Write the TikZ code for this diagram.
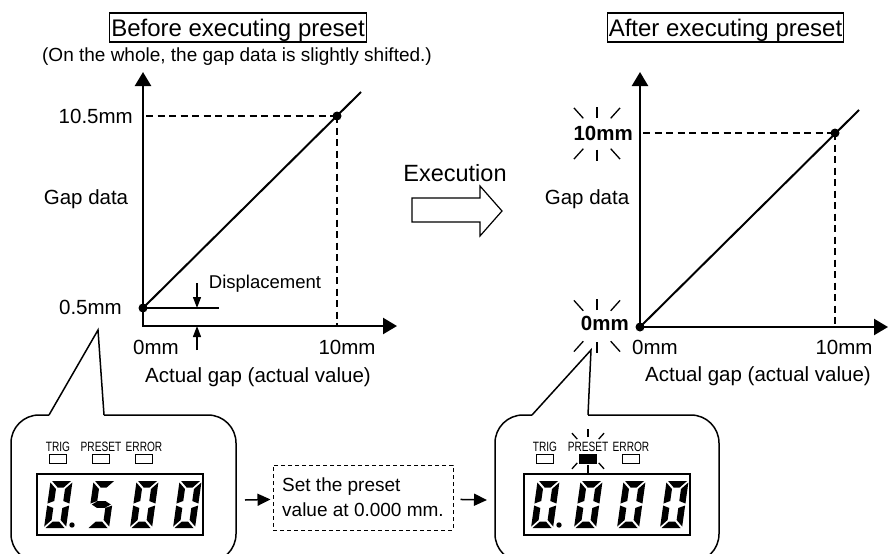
\documentclass[tikz,border=0pt]{standalone}
\usepackage{fontspec}
\setmainfont{Liberation Sans}
\usepackage{graphicx}
\usetikzlibrary{arrows.meta}

% short rays round a lit value
\newcommand{\blink}[5]{%
  \begin{scope}[shift={#1}]
    \foreach \a in {90,270}\draw[ray](\a:#2)--(\a:#3);
    \foreach \a in {48,132,228,312}\draw[ray](\a:#4)--(\a:#5);
  \end{scope}}

\begin{document}
\begin{tikzpicture}[x=1pt,y=-1pt,
heading/.style={draw,line width=1.2pt,inner xsep=1.5pt,inner ysep=2pt,text height=21pt,text depth=4pt,font=\fontsize{24}{28}\selectfont},
lbl/.style={inner sep=0pt,font=\fontsize{20.5}{24}\selectfont},
ax/.style={line width=2.4pt,{Triangle[length=14pt,width=16pt]}-{Triangle[length=14pt,width=16pt]}},
guide/.style={line width=1.5pt,dash pattern=on 7pt off 4.5pt},
trend/.style={line width=2pt},
nudge/.style={line width=1.3pt,-{Triangle[length=11pt,width=8pt]}},
knot/.style={circle,fill,inner sep=0pt,minimum size=9pt},
ray/.style={line width=1.3pt},
bubble/.style={line width=1.5pt,rounded corners=28pt},
lcd/.style={draw,line width=1.1pt,inner sep=0pt,minimum width=166pt,minimum height=61pt},
lamp/.style={draw,line width=.9pt,inner sep=0pt,minimum width=17pt,minimum height=9pt},
lamptag/.style={inner sep=0pt,font=\fontsize{13.5}{14}\selectfont},
flow/.style={line width=1.5pt,-{Triangle[length=13pt,width=12pt]}},
setbox/.style={draw,line width=1pt,dash pattern=on 4pt off 3pt,align=left,inner xsep=9pt,minimum width=180pt,minimum height=65pt,font=\fontsize{19}{25}\selectfont},
zero/.pic={\fill[xslant=.14]
 (1.5,-47)--(20.5,-47)--(14,-40.5)--(8,-40.5)--cycle
 (22,-45.5)--(22,-24.5)--(15.5,-27)--(15.5,-39)--cycle
 (22,-22.5)--(22,-1.5)--(15.5,-8)--(15.5,-20)--cycle
 (1.5,0)--(20.5,0)--(14,-6.5)--(8,-6.5)--cycle
 (0,-1.5)--(0,-22.5)--(6.5,-20)--(6.5,-8)--cycle
 (0,-45.5)--(0,-24.5)--(6.5,-27)--(6.5,-39)--cycle;},
five/.pic={\fill[xslant=.14]
 (1.5,-47)--(20.5,-47)--(14,-40.5)--(8,-40.5)--cycle
 (0,-45.5)--(0,-24.5)--(6.5,-27)--(6.5,-39)--cycle
 (1.5,-23.5)--(7,-26.8)--(15,-26.8)--(20.5,-23.5)--(15,-20.2)--(7,-20.2)--cycle
 (22,-22.5)--(22,-1.5)--(15.5,-8)--(15.5,-20)--cycle
 (1.5,0)--(20.5,0)--(14,-6.5)--(8,-6.5)--cycle;}]
\useasboundingbox(0,0)rectangle(889,554);

% before
\node[heading](before)at(238,27.5){Before executing preset};
\node[lbl,font=\fontsize{19}{22}\selectfont](note)at(237,57){(On the whole, the gap data is slightly shifted.)};
\coordinate(o1)at(143,326);\coordinate(y1)at(143,72);\coordinate(x1)at(397,326);
\draw[ax](y1)--(o1)--(x1);
\coordinate(q1)at(143,308);\coordinate(e1)at(361,92);\coordinate(a1)at(146,116);\coordinate(h1)at(219,308);
\draw[trend](q1)--(e1);
\draw[trend](q1)--(h1);
\node[knot](p1)at(337,116){};
\node[knot](s1)at(q1){};
\draw[guide](a1)--(p1.center);
\draw[guide](p1.center)--(p1|-o1);
\coordinate(d1)at(197,283);\coordinate(d2)at(197,308);\coordinate(d3)at(197,350);\coordinate(d4)at(197,326);
\draw[nudge](d1)--(d2);
\draw[nudge](d3)--(d4);
\node[lbl,anchor=east](hi1)at(133,116){10.5mm};
\node[lbl](gd1)at(86,199){Gap data};
\node[lbl,anchor=east](lo1)at(122,307){0.5mm};
\node[lbl,font=\fontsize{18.5}{22}\selectfont](disp)at(265,284){Displacement};
\node[lbl](z1)at(156,347){0mm};
\node[lbl](t1)at(347,347){10mm};
\node[lbl](ag1)at(258,377){Actual gap (actual value)};

% execution
\node[lbl,font=\fontsize{23.5}{28}\selectfont](exec)at(455,173){Execution};
\draw[line width=1.2pt](412,198)--(480,198)--(480,186)--(502,211)--(480,236)--(480,222)--(412,222)--cycle;

% after
\node[heading](after)at(725.5,27.5){After executing preset};
\coordinate(o2)at(640,327);\coordinate(y2)at(640,72);\coordinate(x2)at(888,327);
\draw[ax](y2)--(o2)--(x2);
\coordinate(e2)at(859,110);\coordinate(a2)at(643,133);
\draw[trend](o2)--(e2);
\node[knot](p2)at(835,133){};
\node[knot](s2)at(o2){};
\draw[guide](a2)--(p2.center);
\draw[guide](p2.center)--(p2|-o2);
\node[lbl,anchor=east,font=\bfseries\fontsize{20.5}{24}\selectfont](hi2)at(633,133){10mm};
\blink{(597,133.5)}{16}{27}{20.5}{34.5}
\node[lbl](gd2)at(587,199){Gap data};
\node[lbl,anchor=east,font=\bfseries\fontsize{20.5}{24}\selectfont](lo2)at(629,323){0mm};
\blink{(597,326)}{16}{27}{20.5}{34.5}
\node[lbl](z2)at(655,347){0mm};
\node[lbl](t2)at(844,347){10mm};
\node[lbl](ag2)at(758,376){Actual gap (actual value)};

% left panel
\draw[line width=1.5pt](49,415)--(98,330)--(104,415);
\draw[bubble](104,415)--(236,415)--(236,562)--(11,562)--(11,415)--(49,415);
\node[lamptag](trigL)at(58,447){\scalebox{.75}[1]{TRIG}};
\node[lamptag](presL)at(101,447){\scalebox{.75}[1]{PRESET}};
\node[lamptag](errL)at(144,447){\scalebox{.75}[1]{ERROR}};
\node[lamp](trigLamp)at(58,458.5){};
\node[lamp](presLamp)at(101,458.5){};
\node[lamp](errLamp)at(144,458.5){};
\node[lcd](lcdL)at(120,504.5){};
\pic at(44,528){zero};\fill(72,525)circle(2.7);
\pic at(87,528){five};
\pic at(130,528){zero};
\pic at(173,528){zero};

% preset step
\node[setbox](setval)at(363,497.5){Set the preset\\value at 0.000 mm.};
\coordinate(outL)at(245,500);\coordinate(inR)at(487,500);
\draw[flow,shorten >=2pt](outL)--(setval);
\draw[flow,shorten <=7pt](setval)--(inR);

% right panel
\draw[line width=1.5pt](532,415)--(591,350)--(588,415);
\draw[bubble](588,415)--(719,415)--(719,562)--(495,562)--(495,415)--(532,415);
\node[lamptag](trigR)at(545,447){\scalebox{.75}[1]{TRIG}};
\node[lamptag](presR)at(588,447){\scalebox{.75}[1]{PRESET}};
\node[lamptag](errR)at(631,447){\scalebox{.75}[1]{ERROR}};
\node[lamp](trigLampR)at(545,458.5){};
\node[lamp,fill=black](presLampR)at(588,458.5){};
\node[lamp](errLampR)at(631,458.5){};
\blink{(588,451)}{14}{22}{16}{24}
\node[lcd](lcdR)at(607,504.5){};
\pic at(531,528){zero};\fill(559,525)circle(2.7);
\pic at(574,528){zero};
\pic at(617,528){zero};
\pic at(660,528){zero};
\end{tikzpicture}
\end{document}
